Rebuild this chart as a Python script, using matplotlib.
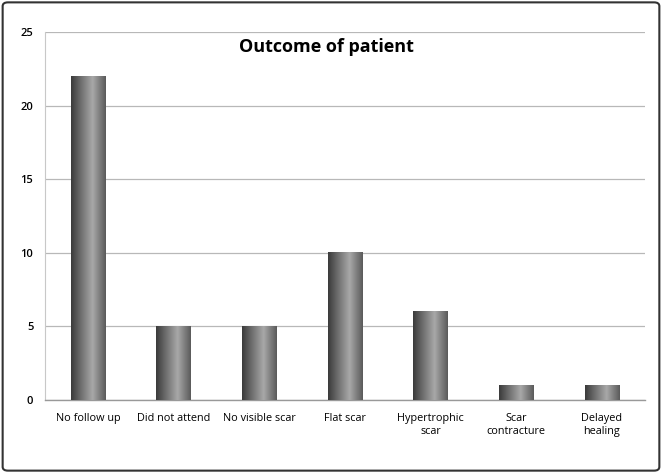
import numpy as np
import matplotlib
matplotlib.use("Agg")
import matplotlib.pyplot as plt
from matplotlib.colors import LinearSegmentedColormap
from matplotlib.patches import FancyBboxPatch

# data
categories = ["No follow up", "Did not attend", "No visible scar", "Flat scar",
              "Hypertrophic\nscar", "Scar\ncontracture", "Delayed\nhealing"]
counts = [22, 5, 5, 10, 6, 1, 1]
y_ticks = [0, 5, 10, 15, 20, 25]

plt.rcParams['font.family'] = ['Open Sans', 'DejaVu Sans']

fig = plt.figure(figsize=(6.62, 4.73), dpi=100)
ax = fig.add_axes([0.068, 0.1543, 0.906, 0.778])

# cylinder-like shading for the bars
shade = LinearSegmentedColormap.from_list(
    "shade", [(0.0, "#3a3a3a"), (0.25, "#686868"), (0.62, "#a8a8a8"), (1.0, "#5a5a5a")])
grad = np.linspace(0, 1, 256).reshape(1, -1)

x = np.arange(len(categories))
bars = ax.bar(x, counts, width=0.4, color="none", zorder=3)
for b in bars:
    x0, w, h = b.get_x(), b.get_width(), b.get_height()
    ax.imshow(grad, cmap=shade, aspect="auto", extent=[x0, x0 + w, 0, h],
              zorder=3, interpolation="bilinear")

ax.set_xlim(-0.5, len(categories) - 0.5)
ax.set_ylim(0, 25)
ax.set_yticks(y_ticks)
ax.set_xticks(x)
ax.set_xticklabels(categories, fontsize=7.8, linespacing=1.3)
ax.tick_params(axis="y", labelsize=8, length=0, pad=8.5)
ax.tick_params(axis="x", length=0, pad=9)
for lbl in ax.get_yticklabels():
    lbl.set_fontweight("semibold")

ax.yaxis.grid(True, color="#b8b8b8", linewidth=0.9, zorder=0)
ax.set_axisbelow(True)
for s in ["top", "right"]:
    ax.spines[s].set_visible(False)
ax.spines["left"].set_color("#c8c8c8")
ax.spines["bottom"].set_color("#999999")
ax.spines["bottom"].set_linewidth(1.0)

ax.text(0.469, 0.985, "Outcome of patient", transform=ax.transAxes,
        ha="center", va="top", fontsize=13, fontweight="bold")

# rounded border round the figure
border = FancyBboxPatch((0.004, 0.005), 0.992, 0.99, boxstyle="round,pad=0,rounding_size=0.008",
                        transform=fig.transFigure, fill=False, edgecolor="#333333",
                        linewidth=1.5)
fig.patches.append(border)

fig.savefig("out.png", dpi=100)
